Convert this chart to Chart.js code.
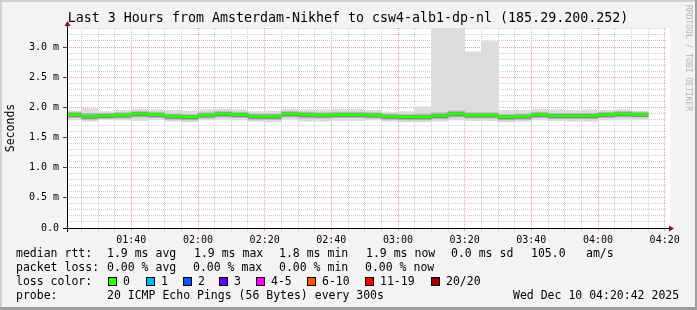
<!DOCTYPE html>
<html lang="en">
<head>
<meta charset="utf-8">
<title>Last 3 Hours from Amsterdam-Nikhef to csw4-alb1-dp-nl</title>
<script src="https://cdn.jsdelivr.net/npm/chart.js"></script>
<style>
  html, body { margin: 0; padding: 0; background: #f3f3f3; }
</style>
</head>
<body>
<canvas id="smoke" width="697" height="310"></canvas>
<script>
// start of each 5 minute step (the first one is cut by the graph start at 01:20:42)
const slots = ['01:20','01:25','01:30','01:35','01:40','01:45','01:50','01:55',
               '02:00','02:05','02:10','02:15','02:20','02:25','02:30','02:35','02:40','02:45','02:50','02:55',
               '03:00','03:05','03:10','03:15','03:20','03:25','03:30','03:35','03:40','03:45','03:50','03:55',
               '04:00','04:05','04:10'];

// median rtt in ms
const median = [1.88,1.85,1.86,1.87,1.89,1.88,1.85,1.84,1.87,1.89,1.88,1.85,1.85,1.89,1.88,1.87,1.88,1.88,1.87,1.85,
                1.84,1.84,1.86,1.89,1.87,1.87,1.84,1.85,1.88,1.86,1.86,1.86,1.88,1.89,1.88];
// smoke: full spread of the 20 pings
const smokeMax = [1.94,1.98,1.93,1.95,1.97,1.96,1.95,1.94,1.96,1.97,1.96,1.93,1.94,1.97,1.96,1.96,1.97,1.97,1.95,1.92,
                  1.93,2.01,3.40,3.40,2.92,3.09,1.95,1.95,1.97,1.96,1.95,1.96,1.95,1.96,1.94];
const smokeMin = [1.79,1.77,1.80,1.79,1.78,1.80,1.77,1.76,1.79,1.80,1.79,1.77,1.76,1.80,1.77,1.77,1.78,1.78,1.79,1.77,
                  1.76,1.76,1.77,1.79,1.78,1.78,1.76,1.77,1.79,1.78,1.77,1.77,1.79,1.80,1.80];
// smoke: middle pings
const midHi = [1.92,1.90,1.90,1.91,1.93,1.92,1.89,1.88,1.91,1.93,1.92,1.89,1.89,1.93,1.92,1.91,1.92,1.92,1.91,1.89,
               1.88,1.89,1.91,1.94,1.91,1.91,1.88,1.89,1.92,1.90,1.90,1.90,1.92,1.93,1.92];
const midLo = [1.83,1.80,1.82,1.82,1.84,1.83,1.80,1.79,1.82,1.84,1.83,1.80,1.80,1.84,1.82,1.82,1.83,1.83,1.82,1.80,
               1.79,1.79,1.81,1.84,1.82,1.82,1.79,1.80,1.83,1.81,1.81,1.81,1.83,1.84,1.84];
// smoke: pings closest to the median
const coreHi = [1.90,1.87,1.88,1.89,1.91,1.90,1.87,1.86,1.89,1.91,1.90,1.87,1.87,1.91,1.90,1.89,1.90,1.90,1.89,1.87,
                1.86,1.86,1.88,1.91,1.89,1.89,1.86,1.87,1.90,1.88,1.88,1.88,1.90,1.91,1.90];
const coreLo = [1.85,1.82,1.83,1.84,1.86,1.85,1.82,1.81,1.84,1.86,1.85,1.82,1.82,1.86,1.85,1.84,1.85,1.85,1.84,1.82,
                1.81,1.81,1.83,1.86,1.84,1.84,1.81,1.82,1.85,1.83,1.83,1.83,1.85,1.86,1.85];

const timeTicks = ['01:40','02:00','02:20','02:40','03:00','03:20','03:40','04:00','04:20'];
const yTickVals = [0, 0.5, 1.0, 1.5, 2.0, 2.5, 3.0];
const yTickLabels = ['0.0','0.5 m','1.0 m','1.5 m','2.0 m','2.5 m','3.0 m'];

const lossLabels = ['0','1','2','3','4-5','6-10','11-19','20/20'];
const lossColors = ['#26ff00','#00b8ff','#0059ff','#5e00ff','#ff00ff','#ff5500','#ff0000','#a10000'];

const graphStart = '01:20:42', graphEnd = '04:20:42';

function toMin(t) {
  const p = t.split(':').map(Number);
  return p[0] * 60 + p[1] + (p[2] || 0) / 60;
}

// bars are centred in their 5 minute step
const centers = slots.map(s => toMin(s) + 2.5);
const band = (lo, hi) => centers.map((x, i) => ({ x: x, y: [lo[i], hi[i]] }));
const medianBand = centers.map((x, i) => ({ x: x, y: [median[i] - 0.018, median[i] + 0.018] }));

const mono = 'DejaVu Sans Mono';
const majorGrid = '#f0a0a0';
const minorGrid = '#cfcfcf';

const deco = {
  id: 'deco',
  beforeDraw(chart) {
    const { ctx, chartArea: a } = chart;
    ctx.save();
    ctx.fillStyle = '#f3f3f3';
    ctx.fillRect(0, 0, chart.width, chart.height);
    ctx.fillStyle = '#ffffff';
    ctx.fillRect(a.left, a.top, a.right - a.left + 3, a.bottom - a.top);
    ctx.restore();
  },
  afterDraw(chart) {
    const { ctx, chartArea: a } = chart;
    ctx.save();

    // axes with arrows
    ctx.strokeStyle = '#000';
    ctx.lineWidth = 1;
    ctx.beginPath();
    ctx.moveTo(a.left - 4, a.bottom + 0.5);
    ctx.lineTo(a.right + 2, a.bottom + 0.5);
    ctx.moveTo(a.left + 0.5, a.bottom + 4);
    ctx.lineTo(a.left + 0.5, a.top - 3);
    ctx.stroke();
    ctx.fillStyle = '#8b1010';
    ctx.beginPath();
    ctx.moveTo(a.left + 0.5, a.top - 7);
    ctx.lineTo(a.left - 2.5, a.top - 2);
    ctx.lineTo(a.left + 3.5, a.top - 2);
    ctx.closePath();
    ctx.fill();
    ctx.beginPath();
    ctx.moveTo(a.right + 7, a.bottom + 0.5);
    ctx.lineTo(a.right + 2, a.bottom - 2.5);
    ctx.lineTo(a.right + 2, a.bottom + 3.5);
    ctx.closePath();
    ctx.fill();

    // title
    ctx.fillStyle = '#000';
    ctx.textBaseline = 'middle';
    ctx.textAlign = 'center';
    ctx.font = '13.3px "' + mono + '"';
    ctx.fillText('Last 3 Hours from Amsterdam-Nikhef to csw4-alb1-dp-nl (185.29.200.252)', 348, 19);

    // y axis title
    ctx.font = '11.5px "' + mono + '"';
    ctx.save();
    ctx.translate(11, (a.top + a.bottom) / 2);
    ctx.rotate(-Math.PI / 2);
    ctx.fillText('Seconds', 0, 0);
    ctx.restore();

    // watermark
    ctx.save();
    ctx.fillStyle = '#b4b4b4';
    ctx.font = '8px "' + mono + '"';
    ctx.translate(688, 58);
    ctx.rotate(Math.PI / 2);
    ctx.fillText('RRDTOOL / TOBI OETIKER', 0, 0);
    ctx.restore();

    // legend
    ctx.textAlign = 'left';
    ctx.font = '11.5px "' + mono + '"';
    const rows = [
      [254, [[16, 'median rtt:'], [107, '1.9 ms avg'], [194, '1.9 ms max'], [279, '1.8 ms min'],
             [366, '1.9 ms now'], [451, '0.0 ms sd'], [531, '105.0'], [586, 'am/s']]],
      [268, [[16, 'packet loss:'], [107, '0.00 % avg'], [193, '0.00 % max'], [279, '0.00 % min'],
             [365, '0.00 % now']]],
      [282, [[16, 'loss color:']]],
      [296, [[16, 'probe:'], [107, '20 ICMP Echo Pings (56 Bytes) every 300s'],
             [513, 'Wed Dec 10 04:20:42 2025']]]
    ];
    rows.forEach(([y, parts]) => parts.forEach(([x, t]) => ctx.fillText(t, x, y)));

    const boxX = [108, 146, 183, 219, 256, 307, 365, 431];
    lossLabels.forEach((lab, i) => {
      ctx.fillStyle = lossColors[i];
      ctx.fillRect(boxX[i], 277, 9, 9);
      ctx.strokeStyle = '#000';
      ctx.strokeRect(boxX[i] + 0.5, 277.5, 8, 8);
      ctx.fillStyle = '#000';
      ctx.fillText(lab, boxX[i] + 15, 282);
    });

    // frame shading
    ctx.fillStyle = '#d2d2d2';
    ctx.fillRect(0, 0, chart.width, 2);
    ctx.fillRect(0, 0, 2, chart.height);
    ctx.fillStyle = '#9e9e9e';
    ctx.fillRect(0, chart.height - 3, chart.width, 3);
    ctx.fillRect(chart.width - 2, 0, 2, chart.height);
    ctx.restore();
  }
};

const common = { grouped: false, barPercentage: 1, categoryPercentage: 1, borderWidth: 0 };

new Chart(document.getElementById('smoke').getContext('2d'), {
  type: 'bar',
  data: {
    datasets: [
      Object.assign({ label: 'median', data: medianBand, backgroundColor: '#26ff00', order: 1 }, common),
      Object.assign({ label: 'core', data: band(coreLo, coreHi), backgroundColor: '#7a7a7a', order: 2 }, common),
      Object.assign({ label: 'mid', data: band(midLo, midHi), backgroundColor: '#b4b4b4', order: 3 }, common),
      Object.assign({ label: 'spread', data: band(smokeMin, smokeMax), backgroundColor: '#dcdcdc', order: 4 }, common)
    ]
  },
  options: {
    responsive: false,
    animation: false,
    layout: { padding: { top: 28, right: 30, left: 0, bottom: 0 } },
    plugins: { legend: { display: false }, tooltip: { enabled: false } },
    scales: {
      x: {
        type: 'linear',
        offset: false,
        min: toMin(graphStart),
        max: toMin(graphEnd),
        afterBuildTicks: s => {
          const t = [];
          for (let m = 85; m <= 260; m += 5) t.push({ value: m });
          s.ticks = t;
        },
        afterFit: s => { s.height = 82; },
        border: { display: false, dash: [1, 1] },
        grid: {
          offset: false,
          color: c => (c.tick && c.tick.value % 20 === 0) ? majorGrid : minorGrid,
          tickColor: c => (c.tick && c.tick.value % 20 === 0) ? majorGrid : minorGrid,
          tickLength: 3
        },
        ticks: {
          autoSkip: false,
          maxRotation: 0,
          padding: 3,
          color: '#000',
          font: { family: mono, size: 10 },
          callback: v => {
            const k = timeTicks.findIndex(t => Math.abs(toMin(t) - v) < 0.01);
            return k >= 0 ? timeTicks[k] : '';
          }
        }
      },
      y: {
        min: 0,
        max: 3.315,
        afterBuildTicks: s => {
          const t = [];
          for (let i = 0; i <= 33; i++) t.push({ value: i / 10 });
          s.ticks = t;
        },
        afterFit: s => { s.width = 67; },
        border: { display: false, dash: [1, 1] },
        grid: {
          color: c => (c.tick && Math.abs(c.tick.value * 2 - Math.round(c.tick.value * 2)) < 1e-6) ? majorGrid : minorGrid,
          tickColor: c => (c.tick && Math.abs(c.tick.value * 2 - Math.round(c.tick.value * 2)) < 1e-6) ? '#444' : 'rgba(0,0,0,0)',
          tickLength: 4
        },
        ticks: {
          autoSkip: false,
          padding: 4,
          color: '#000',
          font: { family: mono, size: 10 },
          callback: v => {
            const k = yTickVals.findIndex(t => Math.abs(t - v) < 1e-6);
            return k >= 0 ? yTickLabels[k] : '';
          }
        }
      }
    }
  },
  plugins: [deco]
});
</script>
</body>
</html>
